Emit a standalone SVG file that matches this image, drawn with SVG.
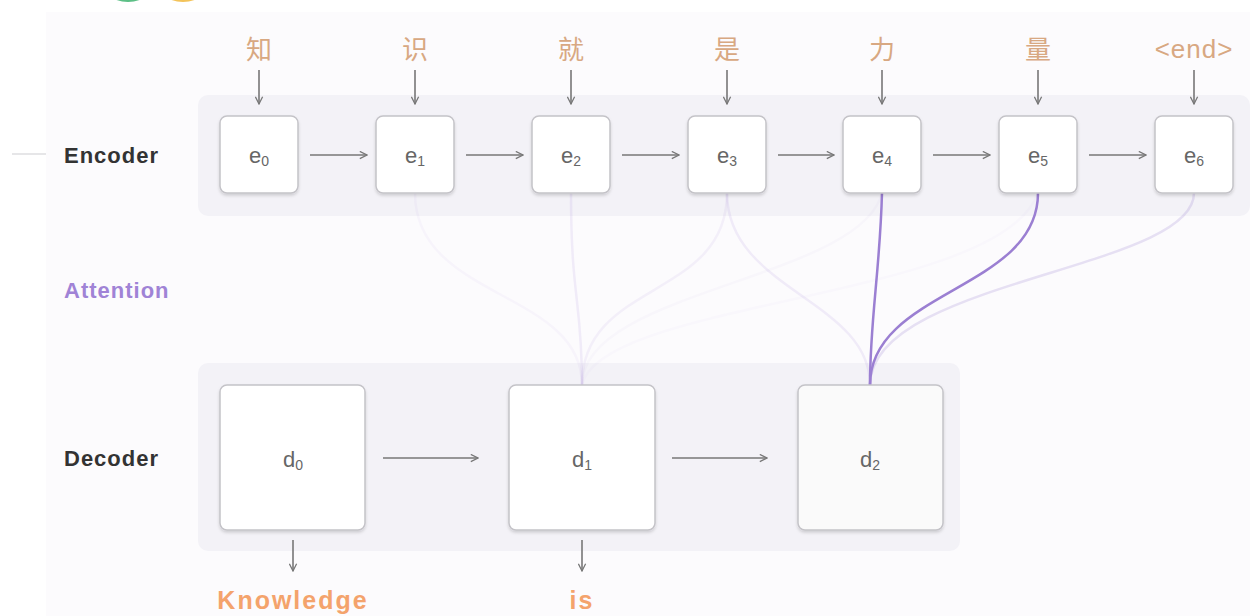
<svg xmlns="http://www.w3.org/2000/svg" width="1250" height="616" viewBox="0 0 1250 616">
<defs>
<marker id="ah" viewBox="0 0 10 10" refX="9" refY="5" markerWidth="9" markerHeight="9" markerUnits="userSpaceOnUse" orient="auto">
<path d="M1,1 L9,5 L1,9" fill="none" stroke="#777" stroke-width="1.4"/>
</marker>
<filter id="sh" x="-20%" y="-20%" width="140%" height="150%">
<feDropShadow dx="0" dy="2" stdDeviation="1.5" flood-color="#000" flood-opacity="0.15"/>
</filter>
</defs>
<style>
.band{fill:#f3f2f7}
.enode{fill:#fff;stroke:#c4c3c8;stroke-width:1.5;filter:url(#sh)}
.dnode{fill:#fff;stroke:#c4c3c8;stroke-width:1.5;filter:url(#sh)}
.lbl{font-family:"Liberation Sans",Arial,sans-serif;font-size:22px;fill:#666;text-anchor:middle}
.sub{font-size:14px}
.tok{font-family:"Liberation Sans","Noto Sans CJK SC",sans-serif;font-size:26px;fill:#d8a882;text-anchor:middle}
.row{font-family:"Liberation Sans",Arial,sans-serif;font-size:22px;font-weight:bold;fill:#333;letter-spacing:1px}
.out{font-family:"Liberation Sans",Arial,sans-serif;font-size:25px;font-weight:bold;fill:#f4a36c;text-anchor:middle;letter-spacing:2px}
.arr{stroke:#777;stroke-width:1.6;fill:none;marker-end:url(#ah)}
.att{fill:none;stroke:#9b7fd2;stroke-width:2.5}
</style>
<rect x="0" y="0" width="1250" height="616" fill="#ffffff"/>
<rect x="46" y="12" width="1204" height="604" fill="#fcfbfd"/>
<circle cx="128" cy="-32" r="34" fill="#5cbf86"/>
<circle cx="183" cy="-32" r="34" fill="#f3c35a"/>
<line x1="12" y1="154" x2="46" y2="154" stroke="#e6e6e8" stroke-width="2"/>

<rect class="band" x="198" y="95" width="1052" height="121" rx="10"/>
<rect class="band" x="198" y="363" width="762" height="188" rx="10"/>

<text class="row" x="64" y="163">Encoder</text>
<text class="row" x="64" y="298" style="fill:#a083d6">Attention</text>
<text class="row" x="64" y="466">Decoder</text>

<g id="connectors">
<path class="att" d="M415,193 C415,300 582,290 582,385" stroke-opacity="0.05" stroke-width="2"/>
<path class="att" d="M571,193 C571,300 582,300 582,385" stroke-opacity="0.12" stroke-width="2"/>
<path class="att" d="M727,193 C727,300 582,280 582,385" stroke-opacity="0.09" stroke-width="2"/>
<path class="att" d="M882,193 C860,280 582,290 582,385" stroke-opacity="0.04" stroke-width="2"/>
<path class="att" d="M1038,193 C1000,300 600,300 582,385" stroke-opacity="0.03" stroke-width="2"/>
<path class="att" d="M727,193 C727,290 870,300 870,385" stroke-opacity="0.12" stroke-width="2"/>
<path class="att" d="M1194,193 C1194,270 870,280 870,385" stroke-opacity="0.22" stroke-width="2"/>
<path class="att" d="M1038,193 C1038,290 870,290 870,385"/>
<path class="att" d="M882,193 C880,270 870,320 870,385"/>

<line class="arr" x1="259" y1="70" x2="259" y2="104"/>
<line class="arr" x1="415" y1="70" x2="415" y2="104"/>
<line class="arr" x1="571" y1="70" x2="571" y2="104"/>
<line class="arr" x1="727" y1="70" x2="727" y2="104"/>
<line class="arr" x1="882" y1="70" x2="882" y2="104"/>
<line class="arr" x1="1038" y1="70" x2="1038" y2="104"/>
<line class="arr" x1="1194" y1="70" x2="1194" y2="104"/>

<line class="arr" x1="310" y1="155" x2="367" y2="155"/>
<line class="arr" x1="466" y1="155" x2="523" y2="155"/>
<line class="arr" x1="622" y1="155" x2="679" y2="155"/>
<line class="arr" x1="778" y1="155" x2="834" y2="155"/>
<line class="arr" x1="933" y1="155" x2="990" y2="155"/>
<line class="arr" x1="1089" y1="155" x2="1146" y2="155"/>

<line class="arr" x1="383" y1="458" x2="478" y2="458"/>
<line class="arr" x1="672" y1="458" x2="767" y2="458"/>

<line class="arr" x1="293" y1="540" x2="293" y2="571"/>
<line class="arr" x1="582" y1="540" x2="582" y2="571"/>
</g>

<text class="tok" x="259" y="59">知</text>
<text class="tok" x="415" y="59">识</text>
<text class="tok" x="571" y="59">就</text>
<text class="tok" x="727" y="59">是</text>
<text class="tok" x="882" y="59">力</text>
<text class="tok" x="1038" y="59">量</text>
<text class="tok" x="1194" y="58" style="letter-spacing:1px">&lt;end&gt;</text>

<g id="e0"><rect class="enode" x="220" y="116" width="78" height="77" rx="7"/><text class="lbl" x="259" y="163">e<tspan class="sub" dy="3">0</tspan></text></g>
<g id="e1"><rect class="enode" x="376" y="116" width="78" height="77" rx="7"/><text class="lbl" x="415" y="163">e<tspan class="sub" dy="3">1</tspan></text></g>
<g id="e2"><rect class="enode" x="532" y="116" width="78" height="77" rx="7"/><text class="lbl" x="571" y="163">e<tspan class="sub" dy="3">2</tspan></text></g>
<g id="e3"><rect class="enode" x="688" y="116" width="78" height="77" rx="7"/><text class="lbl" x="727" y="163">e<tspan class="sub" dy="3">3</tspan></text></g>
<g id="e4"><rect class="enode" x="843" y="116" width="78" height="77" rx="7"/><text class="lbl" x="882" y="163">e<tspan class="sub" dy="3">4</tspan></text></g>
<g id="e5"><rect class="enode" x="999" y="116" width="78" height="77" rx="7"/><text class="lbl" x="1038" y="163">e<tspan class="sub" dy="3">5</tspan></text></g>
<g id="e6"><rect class="enode" x="1155" y="116" width="78" height="77" rx="7"/><text class="lbl" x="1194" y="163">e<tspan class="sub" dy="3">6</tspan></text></g>

<g id="d0"><rect class="dnode" x="220" y="385" width="145" height="145" rx="7"/><text class="lbl" x="293" y="467">d<tspan class="sub" dy="3">0</tspan></text></g>
<g id="d1"><rect class="dnode" x="509" y="385" width="146" height="145" rx="7"/><text class="lbl" x="582" y="467">d<tspan class="sub" dy="3">1</tspan></text></g>
<g id="d2"><rect class="dnode" x="798" y="385" width="145" height="145" rx="7" style="fill:#fafafa"/><text class="lbl" x="870" y="467">d<tspan class="sub" dy="3">2</tspan></text></g>

<text class="out" x="293" y="609">Knowledge</text>
<text class="out" x="582" y="609">is</text>
</svg>
